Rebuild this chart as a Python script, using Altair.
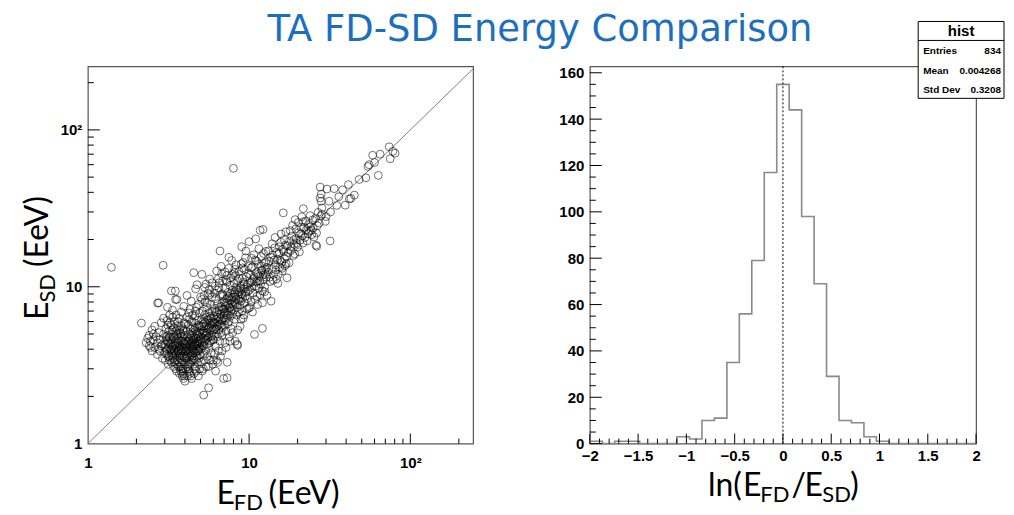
import altair as alt
import pandas as pd

# ---------------------------------------------------------------- data
TITLE = "TA FD-SD Energy Comparison"

# (E_FD, E_SD) in EeV, grouped by E_FD band
pts_outliers = [(1.4, 13.3), (2.93, 13.7), (2.15, 5.87), (2.71, 7.87), (2.75, 7.9), (3.49, 9.4),
                (3.57, 8.3), (5.23, 2.04), (5.61, 2.27), (7.3, 2.63), (10.8, 4.97), (12.1, 5.43),
                (8.49, 4.23), (8.0, 56.9)]
pts_22_30 = [(2.3, 4.4), (2.35, 4.7), (2.4, 4.2), (2.4, 4.9), (2.45, 4.5), (2.5, 3.9), (2.5, 5.3),
             (2.55, 4.6), (2.6, 4.1), (2.6, 5.6), (2.65, 4.8), (2.7, 3.7), (2.7, 4.4), (2.75, 5.1),
             (2.8, 3.9), (2.8, 4.6), (2.85, 5.9), (2.9, 3.5), (2.9, 4.3), (2.95, 5.0), (2.95, 6.3),
             (3.0, 3.8), (2.45, 4.1), (2.55, 5.0), (2.75, 4.0), (2.85, 4.2)]
pts_30_35 = [(3.0, 4.1), (3.02, 3.4), (3.05, 4.6), (3.05, 5.4), (3.08, 3.7), (3.1, 4.0), (3.1, 6.1),
             (3.12, 4.9), (3.15, 3.2), (3.15, 4.4), (3.18, 5.2), (3.2, 3.6), (3.2, 4.8), (3.22, 6.6),
             (3.25, 3.9), (3.25, 4.3), (3.28, 5.7), (3.3, 3.3), (3.3, 4.6), (3.32, 3.8), (3.35, 5.0),
             (3.35, 7.1), (3.38, 4.2), (3.4, 3.1), (3.4, 3.5), (3.4, 5.5), (3.42, 4.0), (3.45, 4.7),
             (3.45, 6.0), (3.48, 3.4), (3.48, 4.4), (3.5, 3.0), (3.5, 5.2), (3.5, 8.3), (3.3, 9.4),
             (3.12, 7.4), (3.36, 6.4), (3.22, 5.9), (3.44, 3.9), (3.06, 4.8)]
pts_35_40 = [(3.52, 3.7), (3.55, 4.1), (3.55, 2.9), (3.58, 4.9), (3.6, 3.4), (3.6, 5.6), (3.62, 4.4),
             (3.65, 3.1), (3.65, 3.9), (3.68, 6.3), (3.7, 4.6), (3.7, 2.8), (3.72, 3.5), (3.75, 5.1),
             (3.75, 4.2), (3.78, 3.0), (3.8, 3.8), (3.8, 6.9), (3.82, 4.8), (3.85, 2.7), (3.85, 3.3),
             (3.88, 5.4), (3.9, 4.0), (3.9, 4.5), (3.92, 2.6), (3.95, 3.6), (3.95, 5.9), (3.98, 4.3),
             (4.0, 3.2), (4.0, 2.5), (3.58, 5.3), (3.66, 4.0), (3.74, 3.7), (3.86, 4.1), (3.94, 7.5),
             (3.62, 6.0), (3.78, 5.0), (3.7, 3.3), (3.84, 3.6), (3.56, 4.5), (3.96, 4.9), (3.9, 2.9)]
pts_40_45 = [(4.02, 3.9), (4.05, 4.5), (4.05, 3.0), (4.08, 5.2), (4.1, 3.5), (4.1, 4.2), (4.12, 6.4),
             (4.15, 2.7), (4.15, 4.8), (4.18, 3.7), (4.2, 5.7), (4.2, 4.0), (4.22, 3.2), (4.25, 4.6),
             (4.25, 2.9), (4.28, 5.0), (4.3, 3.6), (4.3, 7.2), (4.32, 4.3), (4.35, 3.3), (4.35, 5.4),
             (4.38, 4.9), (4.4, 3.9), (4.4, 2.6), (4.42, 6.0), (4.45, 4.4), (4.45, 3.4), (4.48, 5.5),
             (4.5, 3.8), (4.5, 4.7), (4.08, 4.1), (4.16, 3.4), (4.24, 6.8), (4.34, 3.9), (4.44, 4.1),
             (4.12, 8.8), (4.38, 8.1), (4.2, 3.0), (4.3, 2.8), (4.46, 5.1)]
pts_45_50 = [(4.52, 4.2), (4.55, 3.5), (4.55, 5.9), (4.58, 4.8), (4.6, 3.1), (4.6, 4.4), (4.62, 6.5),
             (4.65, 3.8), (4.65, 5.2), (4.68, 4.0), (4.7, 2.9), (4.7, 4.7), (4.72, 7.4), (4.75, 3.6),
             (4.75, 5.5), (4.78, 4.3), (4.8, 3.3), (4.8, 6.1), (4.82, 4.9), (4.85, 3.9), (4.85, 2.7),
             (4.88, 5.7), (4.9, 4.5), (4.9, 3.5), (4.92, 6.8), (4.95, 4.1), (4.95, 5.1), (4.98, 3.7),
             (5.0, 4.6), (5.0, 8.6), (4.58, 3.0), (4.66, 9.7), (4.76, 10.3), (4.84, 4.2), (4.94, 3.0),
             (4.54, 12.3)]
pts_50_60 = [(5.02, 4.0), (5.05, 5.3), (5.05, 3.3), (5.08, 6.2), (5.1, 4.4), (5.12, 2.9), (5.15, 5.0),
             (5.15, 7.0), (5.18, 3.7), (5.2, 4.7), (5.22, 5.8), (5.25, 4.2), (5.28, 3.4), (5.3, 6.6),
             (5.3, 5.1), (5.32, 8.0), (5.35, 4.6), (5.38, 3.9), (5.4, 5.6), (5.42, 3.1), (5.45, 4.9),
             (5.45, 7.4), (5.48, 6.1), (5.5, 4.3), (5.52, 3.6), (5.55, 5.4), (5.58, 9.1), (5.6, 4.8),
             (5.62, 6.8), (5.65, 4.1), (5.68, 5.9), (5.7, 3.4), (5.72, 5.2), (5.75, 7.7), (5.78, 4.5),
             (5.8, 6.3), (5.82, 3.8), (5.85, 5.5), (5.88, 8.6), (5.9, 4.9), (5.92, 6.0), (5.95, 3.2),
             (5.98, 5.3), (5.4, 10.4), (5.7, 11.2), (5.1, 12.0)]
pts_60_70 = [(6.02, 4.6), (6.05, 6.5), (6.08, 5.4), (6.1, 3.7), (6.12, 7.3), (6.15, 5.9), (6.18, 4.2),
             (6.2, 8.4), (6.22, 6.2), (6.25, 5.0), (6.28, 3.4), (6.3, 6.9), (6.32, 5.6), (6.35, 9.5),
             (6.38, 4.8), (6.4, 7.8), (6.42, 6.0), (6.45, 3.9), (6.48, 5.3), (6.5, 7.1), (6.52, 10.6),
             (6.55, 6.4), (6.58, 4.5), (6.6, 5.8), (6.6, 16.9), (6.62, 8.9), (6.65, 3.6), (6.68, 6.7),
             (6.7, 5.1), (6.72, 7.5), (6.75, 12.1), (6.78, 4.9), (6.8, 6.1), (6.82, 9.0), (6.85, 5.5),
             (6.9, 7.2), (6.95, 2.6), (6.98, 6.6)]
pts_70_80 = [(7.02, 8.0), (7.05, 5.7), (7.08, 6.9), (7.1, 4.4), (7.12, 9.8), (7.15, 7.5), (7.18, 6.3),
             (7.2, 5.2), (7.22, 11.0), (7.25, 8.4), (7.3, 6.8), (7.32, 3.3), (7.35, 7.7), (7.38, 5.8),
             (7.4, 9.2), (7.45, 7.0), (7.48, 13.1), (7.5, 6.0), (7.52, 8.7), (7.55, 4.8), (7.6, 7.4),
             (7.62, 10.2), (7.65, 6.5), (7.7, 8.2), (7.75, 5.4), (7.8, 14.7), (7.82, 7.9), (7.88, 9.5),
             (7.95, 6.7)]
pts_80_100 = [(8.02, 8.6), (8.05, 7.1), (8.1, 10.5), (8.12, 6.2), (8.15, 9.0), (8.2, 4.5), (8.22, 7.8),
              (8.25, 11.8), (8.3, 8.3), (8.35, 6.6), (8.4, 9.6), (8.45, 4.3), (8.48, 7.4), (8.5, 10.9),
              (8.55, 8.8), (8.6, 6.9), (8.65, 12.5), (8.7, 9.3), (8.75, 7.6), (8.8, 5.6), (8.85, 10.1),
              (8.9, 8.1), (8.95, 14.0), (9.0, 9.0), (9.05, 7.0), (9.1, 11.3), (9.15, 8.5), (9.2, 6.3),
              (9.25, 10.7), (9.3, 9.7), (9.35, 12.9), (9.4, 7.9), (9.5, 9.2), (9.55, 16.9), (9.6, 11.6),
              (9.7, 8.4), (9.8, 10.3), (9.9, 13.5), (9.95, 7.3)]
pts_10_13 = [(10.1, 9.6), (10.2, 11.9), (10.3, 8.0), (10.4, 10.8), (10.5, 13.4), (10.6, 9.1),
             (10.7, 11.3), (10.9, 14.8), (11.0, 10.1), (11.1, 12.3), (11.2, 8.7), (11.3, 10.9),
             (11.4, 13.9), (11.5, 9.8), (11.6, 11.7), (11.7, 22.9), (11.8, 10.4), (11.9, 15.6),
             (12.0, 12.8), (12.1, 9.4), (12.2, 23.2), (12.3, 11.1), (12.4, 14.1), (12.5, 10.0),
             (12.6, 12.0), (12.7, 16.8), (12.8, 11.5), (12.9, 13.3)]
pts_13_17 = [(13.1, 12.4), (13.3, 14.6), (13.5, 10.8), (13.7, 8.1), (13.8, 13.0), (14.0, 15.9),
             (14.2, 12.0), (14.4, 17.7), (14.6, 13.8), (14.8, 11.2), (15.0, 14.9), (15.1, 10.5),
             (15.3, 16.3), (15.5, 13.3), (15.7, 19.2), (15.9, 14.3), (16.1, 12.6), (16.3, 29.6),
             (16.4, 16.8), (16.6, 15.1), (16.8, 18.4), (17.0, 14.0), (17.2, 11.4)]
pts_17_25 = [(17.5, 16.5), (17.8, 19.5), (18.1, 17.0), (18.4, 21.0), (18.8, 15.8), (19.0, 18.6),
             (19.3, 26.8), (19.6, 20.3), (20.0, 17.9), (20.3, 22.1), (20.7, 19.8), (21.0, 24.0),
             (21.4, 21.2), (21.7, 25.9), (21.7, 31.5), (22.2, 20.6), (22.7, 23.1), (23.2, 21.8),
             (23.6, 22.6), (24.1, 24.2), (24.5, 21.5), (25.0, 23.7)]
pts_25_40 = [(26.0, 18.4), (26.3, 18.1), (27.6, 43.2), (27.6, 36.8), (28.0, 38.9), (28.0, 35.1),
             (28.3, 29.0), (28.3, 31.8), (29.7, 26.1), (30.4, 42.0), (31.3, 35.1), (31.8, 19.6),
             (32.0, 30.0), (33.7, 42.2), (35.0, 33.0), (38.0, 41.5), (39.5, 33.1), (26.5, 24.5),
             (30.0, 28.0), (36.0, 37.5)]
pts_40_85 = [(41.3, 44.8), (41.9, 36.3), (42.8, 36.6), (45.0, 38.4), (48.2, 48.3), (53.0, 49.5),
             (54.6, 58.4), (55.5, 60.0), (58.4, 68.9), (63.3, 51.3), (65.0, 70.0), (74.0, 78.0),
             (75.0, 65.5), (78.0, 73.0), (80.5, 71.0), (60.0, 62.0)]
# the crowded core (overlapping circles), E_FD 3-13 EeV
pts_core_30_40 = [(3.03, 4.3), (3.07, 3.9), (3.11, 4.5), (3.14, 3.6), (3.17, 4.1), (3.19, 4.7),
                  (3.23, 3.4), (3.26, 4.0), (3.29, 4.4), (3.31, 3.7), (3.34, 4.1), (3.37, 3.6),
                  (3.39, 4.8), (3.43, 3.3), (3.46, 4.2), (3.49, 3.8), (3.53, 4.3), (3.57, 3.2),
                  (3.59, 3.9), (3.63, 4.7), (3.67, 3.6), (3.69, 4.2), (3.73, 3.1), (3.76, 3.9),
                  (3.79, 4.5), (3.83, 3.4), (3.87, 3.9), (3.89, 3.0), (3.93, 4.4), (3.97, 3.5),
                  (3.61, 5.0), (3.71, 5.3), (3.81, 5.6), (3.91, 5.2), (3.33, 5.3), (3.13, 5.7),
                  (3.53, 6.6), (3.77, 2.9), (3.88, 2.8), (3.97, 2.7)]
pts_core_40_50 = [(4.03, 4.3), (4.07, 3.6), (4.11, 3.9), (4.14, 4.4), (4.17, 3.1), (4.21, 4.5),
                  (4.24, 3.8), (4.27, 4.2), (4.31, 3.2), (4.33, 4.7), (4.37, 3.7), (4.41, 4.5),
                  (4.43, 3.6), (4.47, 4.0), (4.51, 3.4), (4.54, 4.6), (4.57, 3.9), (4.61, 5.4),
                  (4.64, 4.2), (4.67, 3.4), (4.71, 4.3), (4.74, 5.0), (4.77, 3.9), (4.81, 4.5),
                  (4.86, 5.2), (4.89, 4.0), (4.93, 5.6), (4.97, 4.4), (4.06, 5.8), (4.26, 6.2),
                  (4.46, 6.6), (4.66, 7.0), (4.86, 7.7), (4.36, 2.7), (4.56, 2.8)]
pts_core_50_70 = [(5.03, 4.8), (5.09, 5.6), (5.14, 4.2), (5.19, 6.0), (5.24, 5.2), (5.29, 4.5),
                  (5.34, 5.9), (5.39, 4.9), (5.44, 6.4), (5.49, 5.1), (5.54, 4.7), (5.59, 6.2),
                  (5.64, 5.5), (5.69, 4.4), (5.74, 6.5), (5.79, 5.7), (5.84, 4.8), (5.89, 7.0),
                  (5.94, 5.8), (5.99, 4.6), (6.06, 5.9), (6.14, 6.9), (6.24, 5.4), (6.34, 6.4),
                  (6.44, 5.7), (6.54, 7.4), (6.64, 6.2), (6.74, 5.6), (6.84, 7.9), (6.94, 6.3),
                  (5.26, 8.8), (5.66, 9.6), (6.16, 10.1), (6.46, 11.3), (6.86, 10.9)]
pts_core_70_130 = [(7.04, 7.2), (7.14, 6.1), (7.24, 7.9), (7.34, 6.6), (7.44, 8.5), (7.54, 7.3),
                   (7.64, 9.0), (7.74, 7.0), (7.84, 8.6), (7.94, 7.6), (8.08, 9.2), (8.18, 8.0),
                   (8.28, 9.9), (8.38, 7.7), (8.58, 9.5), (8.68, 8.3), (8.88, 9.8), (9.08, 8.9),
                   (9.28, 10.4), (9.48, 8.7), (9.68, 10.0), (9.88, 9.4), (10.15, 10.6), (10.45, 9.9),
                   (10.75, 11.6), (11.05, 10.7), (11.35, 12.0), (11.65, 10.9), (11.95, 12.6),
                   (12.25, 11.9), (12.65, 13.0), (7.28, 11.8), (8.14, 12.9), (9.18, 14.3),
                   (10.35, 15.2)]
# wider spread of the band, E_FD 5-28 EeV
pts_spread_5_8 = [(5.1, 8.3), (5.3, 9.9), (5.5, 7.9), (5.7, 8.9), (5.9, 10.6), (6.1, 9.1), (6.3, 12.6),
                  (6.5, 9.8), (6.7, 13.5), (6.9, 8.7), (7.1, 12.4), (7.3, 10.7), (7.5, 15.4),
                  (7.7, 11.4), (7.9, 12.0), (5.2, 3.0), (5.6, 3.1), (6.0, 3.4), (6.4, 3.3), (6.8, 3.9),
                  (7.2, 4.1), (7.6, 4.5), (7.9, 5.1), (6.2, 2.9)]
pts_spread_8_13 = [(8.1, 12.3), (8.3, 13.8), (8.5, 5.3), (8.7, 11.3), (8.9, 6.2), (9.1, 13.2),
                   (9.3, 6.6), (9.5, 15.3), (9.7, 7.2), (9.9, 12.1), (10.1, 7.4), (10.3, 13.2),
                   (10.5, 6.9), (10.7, 16.0), (10.9, 8.3), (11.1, 14.6), (11.3, 7.7), (11.5, 17.5),
                   (11.7, 8.9), (11.9, 13.6), (12.1, 7.9), (12.3, 16.3), (12.5, 9.3), (12.7, 14.4),
                   (12.9, 8.8), (9.0, 18.0), (10.0, 19.4), (11.0, 20.2)]
pts_spread_13_28 = [(13.2, 16.9), (13.4, 11.5), (13.6, 15.4), (13.9, 18.8), (14.1, 11.0), (14.3, 14.8),
                    (14.5, 20.6), (14.7, 12.8), (14.9, 16.6), (15.2, 12.0), (15.4, 18.0), (15.6, 14.7),
                    (15.8, 21.7), (16.0, 13.1), (16.2, 17.3), (16.5, 20.0), (16.7, 13.6), (16.9, 22.4),
                    (17.1, 15.6), (17.3, 18.2), (17.7, 14.2), (18.0, 22.8), (18.3, 18.0), (18.6, 24.6),
                    (18.9, 19.9), (19.2, 16.2), (19.5, 23.4), (19.8, 18.9), (20.2, 25.7), (20.5, 16.7),
                    (20.9, 21.7), (21.2, 27.9), (21.6, 19.0), (22.0, 23.9), (22.5, 26.3), (22.9, 19.6),
                    (23.4, 25.0), (23.9, 28.4), (24.3, 22.9), (24.8, 26.6), (25.3, 20.8), (25.8, 27.3),
                    (26.2, 22.0), (26.8, 29.8), (27.2, 25.5), (27.8, 28.2)]

diag_e = [1, 245]          # E_SD = E_FD reference line

# histogram of ln(E_FD/E_SD): 31 bins on [-2, 2]
hist_lo, hist_hi, hist_nbins = -2.0, 2.0, 31
hist_counts = [1, 0, 1, 1, 0, 0, 0, 3, 2, 10, 11, 35, 56, 79, 117, 155, 144, 98, 69, 29,
               10, 9, 3, 1, 0, 0, 0, 0, 0, 0, 0]
stats_rows = [("Entries", "834"), ("Mean", "0.004268"), ("Std Dev", "0.3208")]

# tick values
log_major = [1, 10, 100]
log_minor = [2, 3, 4, 5, 6, 7, 8, 9, 20, 30, 40, 50, 60, 70, 80, 90, 200]
h_x_major = [-2, -1.5, -1, -0.5, 0, 0.5, 1, 1.5, 2]
h_x_minor = [round(-2 + 0.1 * i, 2) for i in range(41) if i % 5]
h_y_major = [0, 20, 40, 60, 80, 100, 120, 140, 160]
h_y_minor = [v for v in range(5, 161, 5) if v % 20]

# ---------------------------------------------------------------- style
FONT_AX = "Liberation Sans"
FONT_BIG = "Lato"
FONT_TITLE = "DejaVu Sans"
W1, W2, H = 386, 387, 378
GAP = 117

x_log = alt.Scale(type="log", domain=[1, 245], nice=False)
y_log = alt.Scale(type="log", domain=[1, 254], nice=False)
x_lin = alt.Scale(domain=[hist_lo, hist_hi], nice=False, zero=False)
y_lin = alt.Scale(domain=[0, 162.75], nice=False)
LOG_EXPR = "datum.value < 5 ? '1' : datum.value < 50 ? '10' : '10\u00b2'"


def ax(values, pad, expr=None, fmt=None):
    kw = dict(values=values, title=None, ticks=False, tickSize=0, domain=False, grid=False,
              labelFont=FONT_AX, labelFontSize=15, labelFontWeight="bold", labelColor="black",
              labelPadding=pad, labelFlush=False, labelOverlap=False)
    if expr:
        kw["labelExpr"] = expr
    if fmt:
        kw["format"] = fmt
    return alt.Axis(**kw)


def sx():
    return alt.X("efd:Q", scale=x_log, axis=ax(log_major, 12, LOG_EXPR))


def sy():
    return alt.Y("esd:Q", scale=y_log, axis=ax(log_major, 6, LOG_EXPR))


def hx():
    return alt.X("lnr:Q", scale=x_lin, axis=ax(h_x_major, 5, fmt="~g"))


def hy():
    return alt.Y("cnt:Q", scale=y_lin, axis=ax(h_y_major, 6))


one = pd.DataFrame({"k": [0]})


def txt(s, x, y, size, font=FONT_BIG, angle=0, align="left", weight="normal", color="black"):
    kw = dict(text=s, font=font, fontSize=size, align=align, baseline="alphabetic",
              color=color, fontWeight=weight)
    if angle:
        kw["angle"] = angle
    return alt.Chart(one).mark_text(**kw).encode(x=alt.value(x), y=alt.value(y))


def xticks(field, vals, enc, length):
    return alt.Chart(pd.DataFrame({field: vals})).mark_rule(color="black", strokeWidth=1).encode(
        x=enc(), y=alt.value(H), y2=alt.value(H - length))


def yticks(field, vals, enc, length):
    return alt.Chart(pd.DataFrame({field: vals})).mark_rule(color="black", strokeWidth=1).encode(
        y=enc(), x=alt.value(0), x2=alt.value(length))


# ---------------------------------------------------------------- left panel
points = (pts_outliers + pts_22_30 + pts_30_35 + pts_35_40 + pts_40_45 + pts_45_50 + pts_50_60
          + pts_60_70 + pts_70_80 + pts_80_100 + pts_10_13 + pts_13_17 + pts_17_25 + pts_25_40
          + pts_40_85 + pts_core_30_40 + pts_core_40_50 + pts_core_50_70 + pts_core_70_130
          + pts_spread_5_8 + pts_spread_8_13 + pts_spread_13_28)
sc_df = pd.DataFrame(points, columns=["efd", "esd"])

scatter = alt.Chart(sc_df).mark_point(shape="circle", filled=False, color="black", size=62,
                                      strokeWidth=0.9, opacity=0.62).encode(x=sx(), y=sy())
diag = alt.Chart(pd.DataFrame({"efd": diag_e, "esd": diag_e})).mark_line(
    color="#808080", strokeWidth=1).encode(x=sx(), y=sy())

# invisible frame fixing the drawing to the page area (8..1006 x 8..515)
bounds_box = alt.Chart(one).mark_rect(opacity=0).encode(
    x=alt.value(-79), x2=alt.value(919), y=alt.value(-57), y2=alt.value(450))

left = alt.layer(
    bounds_box,
    diag,
    scatter,
    xticks("efd", [10, 100], sx, 10),
    xticks("efd", log_minor, sx, 5),
    yticks("esd", [10, 100], sy, 12),
    yticks("esd", log_minor, sy, 6),
    txt(TITLE, 453, -25, 37, font=FONT_TITLE, align="center", color="#1d6fbe"),
    # x title  E_FD (EeV)
    txt("E", 129, 438, 32),
    txt("FD", 146.3, 444, 22),
    txt("(EeV)", 181, 438, 32),
    # y title  E_SD (EeV)  (rotated)
    txt("E", -40, 254, 32, angle=270),
    txt("SD", -33, 236.7, 22, angle=270),
    txt("(EeV)", -40, 201, 32, angle=270),
).properties(width=W1, height=H)

# ---------------------------------------------------------------- right panel
edges = [hist_lo + (hist_hi - hist_lo) * k / hist_nbins for k in range(hist_nbins + 1)]
hist_df = pd.DataFrame({"lnr": edges, "cnt": hist_counts + [hist_counts[-1]]})
hist = alt.Chart(hist_df).mark_line(interpolate="step-after", color="#8a8a8a",
                                    strokeWidth=1.6).encode(x=hx(), y=hy())
zero_line = alt.Chart(pd.DataFrame({"lnr": [0], "cnt": [0]})).mark_rule(
    color="black", strokeDash=[2, 2], strokeWidth=1).encode(x=hx(), y=hy(), y2=alt.value(0))

box = alt.Chart(one).mark_rect(fill="white", stroke="black", strokeWidth=1).encode(
    x=alt.value(329), x2=alt.value(415), y=alt.value(-45), y2=alt.value(32))
box_sep = alt.Chart(one).mark_rule(color="black", strokeWidth=1).encode(
    x=alt.value(329), x2=alt.value(415), y=alt.value(-26))
stat_layers = [txt("hist", 372, -30, 15, font=FONT_AX, align="center", weight="bold")]
for i, (lab, val) in enumerate(stats_rows):
    yb = -12 + 19.5 * i
    stat_layers.append(txt(lab, 334, yb, 10, font=FONT_AX, weight="bold"))
    stat_layers.append(txt(val, 412, yb, 10, font=FONT_AX, align="right", weight="bold"))

right = alt.layer(
    hist,
    zero_line,
    xticks("lnr", h_x_major, hx, 10),
    xticks("lnr", h_x_minor, hx, 5),
    yticks("cnt", h_y_major, hy, 12),
    yticks("cnt", h_y_minor, hy, 6),
    box,
    box_sep,
    *stat_layers,
    # x title  ln(E_FD/E_SD)
    txt("ln(", 118.3, 430, 32),
    txt("E", 153.5, 430, 32),
    txt("FD", 170.8, 436, 22),
    txt("/", 202, 430, 32),
    txt("E", 215, 430, 32),
    txt("SD", 233, 436, 22),
    txt(")", 261, 430, 32),
).properties(width=W2, height=H)

chart = alt.hconcat(left, right, spacing=GAP, bounds="flush").properties(
    padding=0, background="white"
).configure_view(stroke="#555555", strokeWidth=1.2)

chart.save("out.html", embed_options={"renderer": "svg", "actions": False})
